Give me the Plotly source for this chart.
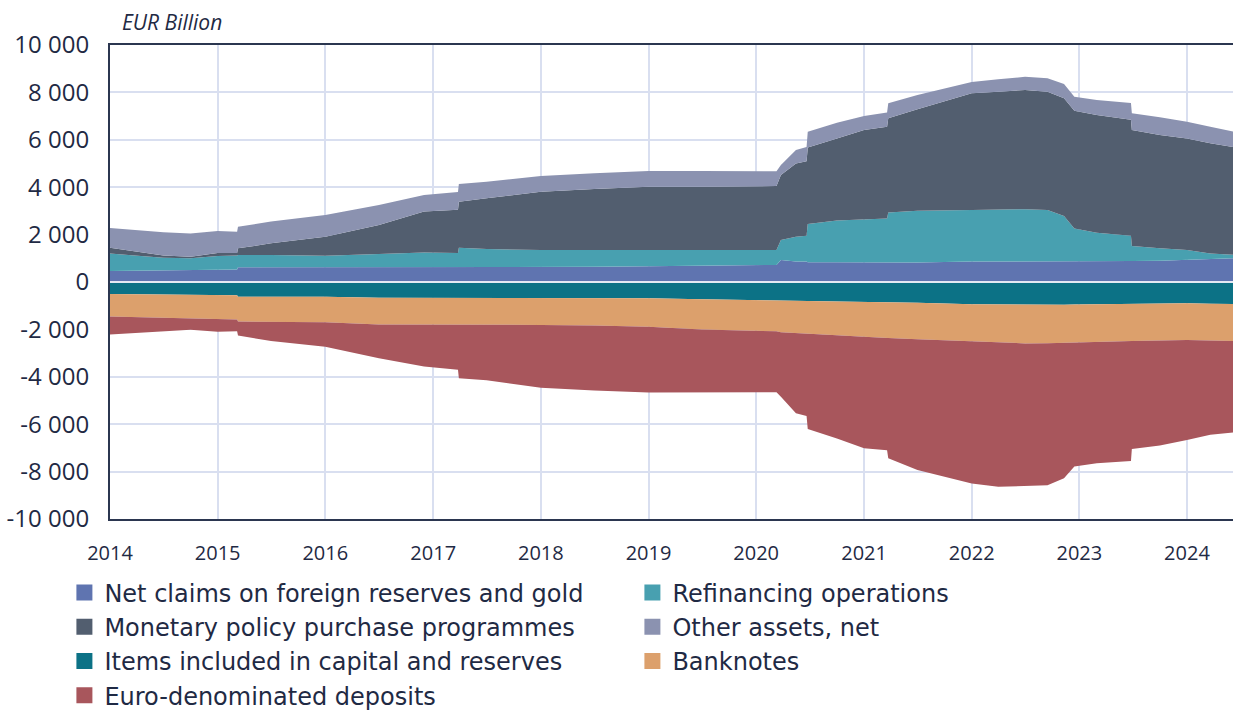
import plotly.graph_objects as go

# ---------------- data (EUR billion) ----------------
dates = [
    "2014-01-01", "2014-07-01", "2014-10-01", "2015-01-01", "2015-03-08", "2015-03-11",
    "2015-07-01", "2016-01-01", "2016-07-01", "2016-12-01", "2017-03-26", "2017-03-29",
    "2017-07-01", "2018-01-01", "2018-07-01", "2019-01-01", "2019-07-01", "2020-01-01",
    "2020-03-10", "2020-03-25", "2020-05-15", "2020-06-20", "2020-06-24", "2020-10-01",
    "2021-01-01", "2021-03-20", "2021-03-24", "2021-07-01", "2022-01-01", "2022-04-01",
    "2022-07-01", "2022-09-15", "2022-11-10", "2022-12-15", "2023-03-01", "2023-06-25",
    "2023-06-28", "2023-10-01", "2024-01-01", "2024-03-20", "2024-06-05",
]

net_claims = [460, 500, 520, 530, 530, 620, 620, 620, 650, 650, 650, 650, 640, 640, 640, 660, 680, 720,
              720, 930, 860, 860, 830, 830, 820, 820, 820, 820, 860, 860, 860, 870, 880, 890, 890, 890,
              890, 900, 930, 980, 1000]
refinancing = [740, 520, 480, 570, 590, 520, 520, 490, 530, 590, 570, 800, 750, 710, 710, 690, 700, 630,
               630, 840, 1050, 1090, 1620, 1760, 1820, 1860, 2110, 2190, 2180, 2190, 2210, 2170, 1900,
               1370, 1190, 1060, 630, 520, 420, 220, 150]
mpp = [250, 100, 70, 120, 100, 280, 490, 800, 1230, 1730, 1830, 1940, 2140, 2460, 2570, 2670, 2640, 2700,
       2700, 2740, 3090, 3150, 3230, 3470, 3770, 3870, 3980, 4280, 4920, 4980, 5030, 4990, 4970, 4970,
       4970, 4900, 4890, 4780, 4710, 4650, 4550]
other_assets = [830, 980, 980, 930, 900, 910, 920, 920, 840, 700, 750, 740, 700, 660, 670, 660, 660, 620,
                620, 430, 570, 600, 660, 660, 590, 600, 630, 600, 480, 520, 560, 570, 600, 590, 630, 700,
                710, 750, 700, 700, 650]
capital_items = [-510, -520, -530, -550, -560, -620, -620, -620, -660, -660, -660, -690, -690, -660, -670,
                 -690, -730, -780, -780, -800, -800, -800, -800, -820, -830, -840, -840, -880, -940, -950,
                 -970, -970, -960, -950, -940, -930, -920, -910, -900, -920, -930]
banknotes = [-950, -980, -990, -1010, -1020, -1050, -1050, -1080, -1130, -1130, -1130, -1100, -1110, -1150,
             -1170, -1200, -1270, -1300, -1300, -1320, -1350, -1360, -1370, -1430, -1480, -1500, -1520,
             -1540, -1580, -1610, -1620, -1610, -1600, -1590, -1580, -1570, -1570, -1560, -1550, -1550, -1560]
deposits = [-750, -570, -500, -540, -500, -590, -820, -1030, -1430, -1780, -1910, -2270, -2350, -2650, -2740,
            -2770, -2660, -2550, -2570, -2720, -3390, -3490, -4030, -4350, -4710, -4760, -5080, -5510, -5980,
            -6080, -6030, -6000, -5720, -5250, -5130, -5050, -4560, -4430, -4220, -3980, -3860]

series_names = [
    "Net claims on foreign reserves and gold",
    "Refinancing operations",
    "Monetary policy purchase programmes",
    "Other assets, net",
    "Items included in capital and reserves",
    "Banknotes",
    "Euro-denominated deposits",
]
series_values = [net_claims, refinancing, mpp, other_assets, capital_items, banknotes, deposits]
series_groups = ["pos", "pos", "pos", "pos", "neg", "neg", "neg"]
series_colors = ["#5f74b0", "#48a0b0", "#525e6f", "#8b92b0", "#0c7286", "#dca06c", "#a8565c"]

y_tick_vals = [-10000, -8000, -6000, -4000, -2000, 0, 2000, 4000, 6000, 8000, 10000]
y_tick_text = ["-10 000", "-8 000", "-6 000", "-4 000", "-2 000", "0",
               "2 000", "4 000", "6 000", "8 000", "10 000"]
x_tick_vals = [f"{y}-01-01" for y in range(2014, 2025)]
x_tick_text = [str(y) for y in range(2014, 2025)]

TEXT = "#1f2a44"
FONT = "Open Sans"
LEGEND_FONT = "DejaVu Sans"

fig = go.Figure()
for name, vals, grp, col in zip(series_names, series_values, series_groups, series_colors):
    fig.add_trace(go.Scatter(
        x=dates, y=vals, name=name, stackgroup=grp, mode="lines",
        line=dict(width=0, color=col), fillcolor=col, showlegend=False,
    ))
# legend entries (square swatches)
for name, col in zip(series_names, series_colors):
    fig.add_trace(go.Scatter(
        x=[None], y=[None], name=name, mode="markers",
        marker=dict(symbol="square", size=18, color=col), showlegend=True,
    ))

fig.add_shape(type="line", xref="paper", x0=0, x1=1, yref="y", y0=0, y1=0,
              line=dict(color="#e4e9f4", width=2), layer="above")

fig.add_annotation(text="<i>EUR Billion</i>", xref="paper", yref="paper", x=0.009, y=1.014,
                   xanchor="left", yanchor="bottom", showarrow=False,
                   font=dict(family=FONT, size=21, color=TEXT))

fig.update_layout(
    width=1233, height=711,
    margin=dict(l=110, r=0, t=45, b=192, autoexpand=False),
    paper_bgcolor="white", plot_bgcolor="white",
    font=dict(family=FONT, color=TEXT),
    showlegend=True,
    legend=dict(
        orientation="h", x=-0.0406, xanchor="left", y=-0.1085, yanchor="top",
        entrywidth=523, entrywidthmode="pixels", traceorder="normal",
        font=dict(family=LEGEND_FONT, size=24, color=TEXT), itemsizing="trace",
        tracegroupgap=0, bgcolor="rgba(0,0,0,0)",
    ),
    xaxis=dict(
        type="date", range=["2014-01-01", "2024-06-05"],
        tickvals=x_tick_vals, ticktext=x_tick_text,
        tickfont=dict(family=FONT, size=20, color=TEXT),
        showgrid=True, gridcolor="#d9dff0", gridwidth=2,
        showline=True, linecolor="#2b3650", linewidth=2, mirror=True,
        ticks="", ticklabelstandoff=15, automargin=False,
    ),
    yaxis=dict(
        range=[-10000, 10000], tickvals=y_tick_vals, ticktext=y_tick_text,
        tickfont=dict(family=FONT, size=24, color=TEXT),
        showgrid=True, gridcolor="#d9dff0", gridwidth=2, zeroline=False,
        showline=True, linecolor="#2b3650", linewidth=2,
        ticks="", ticklabelstandoff=14, automargin=False,
    ),
)

fig.write_html("out.html", config={"displayModeBar": False},
               post_script="document.body.style.margin='0';")
